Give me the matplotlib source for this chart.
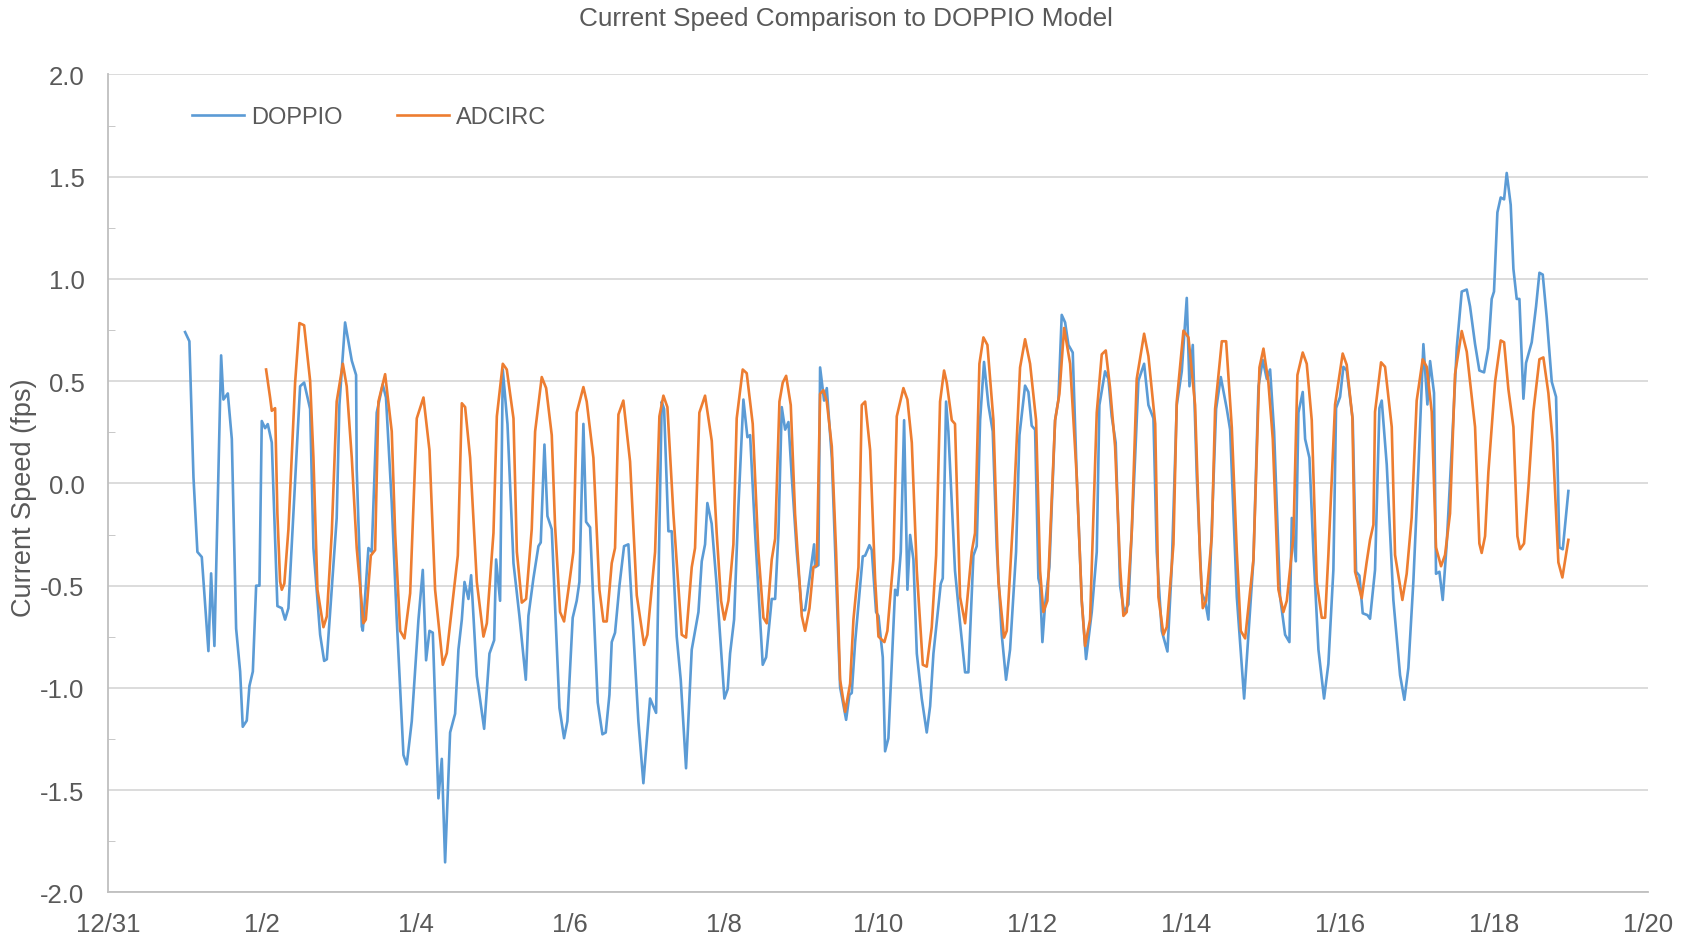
import numpy as np
import matplotlib
matplotlib.use('Agg')
import matplotlib.pyplot as plt
from matplotlib.ticker import MultipleLocator, FormatStrFormatter

plt.rcParams['font.family'] = ['Liberation Sans', 'DejaVu Sans']

# days after 12/31 00:00, current speed in fps
doppio = [
    (1.001, 0.74), (1.057, 0.695), (1.11, 0.03), (1.161, -0.335), (1.218, -0.36),
    (1.304, -0.82), (1.339, -0.44), (1.382, -0.795), (1.469, 0.626), (1.499, 0.41),
    (1.556, 0.44), (1.608, 0.217), (1.664, -0.71), (1.716, -0.92), (1.75, -1.19),
    (1.802, -1.16), (1.837, -0.99), (1.881, -0.92), (1.924, -0.50), (1.967, -0.50),
    (1.997, 0.305), (2.04, 0.27), (2.075, 0.29), (2.127, 0.20), (2.2, -0.60),
    (2.257, -0.61), (2.3, -0.666), (2.343, -0.61), (2.495, 0.475), (2.547, 0.493),
    (2.625, 0.364), (2.668, -0.316), (2.755, -0.74), (2.807, -0.868), (2.842, -0.86),
    (2.97, -0.17), (3.005, 0.383), (3.079, 0.787), (3.166, 0.60), (3.222, 0.53),
    (3.23, 0.07), (3.296, -0.70), (3.309, -0.72), (3.382, -0.316), (3.425, -0.335),
    (3.49, 0.346), (3.568, 0.484), (3.61, 0.42), (3.685, -0.096), (3.75, -0.666),
    (3.837, -1.328), (3.88, -1.374), (3.945, -1.163), (4.032, -0.666), (4.088, -0.423),
    (4.131, -0.865), (4.175, -0.721), (4.218, -0.73), (4.291, -1.54), (4.335, -1.347),
    (4.378, -1.853), (4.443, -1.218), (4.508, -1.126), (4.551, -0.813), (4.595, -0.666),
    (4.63, -0.482), (4.681, -0.565), (4.716, -0.449), (4.79, -0.942), (4.885, -1.2),
    (4.954, -0.832), (5.015, -0.767), (5.04, -0.372), (5.092, -0.574), (5.127, 0.557),
    (5.188, 0.29), (5.266, -0.39), (5.343, -0.648), (5.426, -0.96), (5.46, -0.648),
    (5.525, -0.464), (5.59, -0.307), (5.62, -0.289), (5.668, 0.19), (5.707, -0.16),
    (5.763, -0.224), (5.863, -1.098), (5.923, -1.246), (5.966, -1.163), (6.035, -0.657),
    (6.087, -0.574), (6.122, -0.482), (6.174, 0.291), (6.209, -0.188), (6.261, -0.215),
    (6.36, -1.071), (6.421, -1.227), (6.464, -1.218), (6.512, -1.034), (6.542, -0.776),
    (6.585, -0.73), (6.642, -0.5), (6.702, -0.307), (6.758, -0.298), (6.888, -1.163),
    (6.953, -1.466), (7.04, -1.052), (7.118, -1.122), (7.191, 0.40), (7.222, 0.364),
    (7.278, -0.234), (7.321, -0.234), (7.386, -0.749), (7.438, -0.96), (7.507, -1.393),
    (7.581, -0.813), (7.624, -0.721), (7.668, -0.629), (7.711, -0.381), (7.754, -0.298),
    (7.784, -0.096), (7.84, -0.197), (7.905, -0.5), (8.005, -1.052), (8.048, -1.006),
    (8.079, -0.832), (8.131, -0.666), (8.187, -0.114), (8.252, 0.41), (8.304, 0.226),
    (8.339, 0.236), (8.404, -0.243), (8.503, -0.887), (8.547, -0.85), (8.62, -0.565),
    (8.664, -0.565), (8.707, -0.243), (8.75, 0.373), (8.794, 0.263), (8.837, 0.30),
    (8.88, 0.033), (8.945, -0.335), (9.01, -0.62), (9.053, -0.62), (9.118, -0.445),
    (9.17, -0.298), (9.183, -0.41), (9.226, -0.40), (9.248, 0.567), (9.3, 0.405),
    (9.335, 0.466), (9.4, 0.125), (9.508, -0.997), (9.586, -1.156), (9.629, -1.034),
    (9.659, -1.025), (9.703, -0.776), (9.802, -0.357), (9.833, -0.353), (9.889, -0.302),
    (9.919, -0.326), (9.975, -0.629), (10.006, -0.648), (10.062, -0.85), (10.092, -1.31),
    (10.135, -1.246), (10.222, -0.52), (10.252, -0.547), (10.296, -0.335), (10.339, 0.309),
    (10.382, -0.52), (10.417, -0.252), (10.46, -0.372), (10.504, -0.832), (10.568, -1.052),
    (10.633, -1.218), (10.677, -1.089), (10.72, -0.832), (10.772, -0.648), (10.815, -0.491),
    (10.841, -0.464), (10.884, 0.40), (10.914, 0.254), (11.0, -0.427), (11.066, -0.684),
    (11.131, -0.924), (11.174, -0.924), (11.239, -0.353), (11.282, -0.307), (11.326, 0.309),
    (11.377, 0.594), (11.434, 0.383), (11.49, 0.254), (11.542, -0.316), (11.607, -0.74),
    (11.663, -0.96), (11.715, -0.813), (11.793, -0.335), (11.837, 0.236), (11.91, 0.478),
    (11.953, 0.447), (11.996, 0.282), (12.04, 0.263), (12.083, -0.464), (12.105, -0.50),
    (12.135, -0.776), (12.17, -0.592), (12.226, -0.409), (12.3, 0.309), (12.343, 0.41),
    (12.386, 0.824), (12.43, 0.787), (12.473, 0.677), (12.529, 0.64), (12.581, 0.033),
    (12.646, -0.574), (12.702, -0.859), (12.776, -0.629), (12.841, -0.335), (12.875, 0.383),
    (12.949, 0.548), (12.992, 0.511), (13.035, 0.328), (13.087, 0.199), (13.144, -0.50),
    (13.196, -0.629), (13.252, -0.592), (13.339, 0.125), (13.382, 0.502), (13.456, 0.585),
    (13.512, 0.383), (13.577, 0.318), (13.62, -0.335), (13.685, -0.721), (13.759, -0.822),
    (13.815, -0.409), (13.88, 0.383), (13.945, 0.548), (14.01, 0.907), (14.045, 0.475),
    (14.088, 0.677), (14.14, 0.033), (14.205, -0.537), (14.248, -0.574), (14.291, -0.666),
    (14.348, -0.077), (14.391, 0.364), (14.452, 0.52), (14.53, 0.364), (14.573, 0.263),
    (14.66, -0.556), (14.755, -1.052), (14.833, -0.61), (14.876, -0.372), (14.941, 0.475),
    (14.997, 0.603), (15.049, 0.511), (15.092, 0.557), (15.144, 0.254), (15.222, -0.556),
    (15.287, -0.74), (15.343, -0.776), (15.374, -0.169), (15.426, -0.381), (15.46, 0.346),
    (15.516, 0.447), (15.547, 0.217), (15.603, 0.125), (15.655, -0.335), (15.72, -0.813),
    (15.793, -1.052), (15.849, -0.883), (15.914, -0.423), (15.949, 0.368), (16.001, 0.423),
    (16.044, 0.57), (16.087, 0.552), (16.165, 0.313), (16.209, -0.432), (16.252, -0.451),
    (16.295, -0.635), (16.356, -0.644), (16.39, -0.662), (16.455, -0.423), (16.512, 0.368),
    (16.542, 0.405), (16.607, 0.092), (16.693, -0.57), (16.78, -0.938), (16.836, -1.058),
    (16.888, -0.902), (16.953, -0.478), (17.018, 0.074), (17.083, 0.681), (17.135, 0.386),
    (17.17, 0.598), (17.221, 0.442), (17.247, -0.442), (17.291, -0.432), (17.334, -0.57),
    (17.386, -0.294), (17.451, 0.166), (17.516, 0.662), (17.581, 0.938), (17.646, 0.948),
    (17.689, 0.865), (17.754, 0.681), (17.81, 0.552), (17.871, 0.543), (17.927, 0.662),
    (17.97, 0.902), (18.0, 0.938), (18.044, 1.325), (18.087, 1.398), (18.131, 1.389),
    (18.165, 1.518), (18.217, 1.362), (18.252, 1.049), (18.295, 0.902), (18.33, 0.902),
    (18.382, 0.414), (18.416, 0.589), (18.49, 0.69), (18.546, 0.865), (18.59, 1.03),
    (18.633, 1.021), (18.685, 0.81), (18.75, 0.497), (18.806, 0.423), (18.849, -0.313),
    (18.893, -0.322), (18.966, -0.037),
]

adcirc = [
    (2.053, 0.557), (2.105, 0.42), (2.127, 0.355), (2.17, 0.368), (2.2, -0.15),
    (2.235, -0.48), (2.257, -0.52), (2.29, -0.49), (2.343, -0.225), (2.43, 0.493),
    (2.486, 0.784), (2.547, 0.773), (2.625, 0.502), (2.668, 0.125), (2.72, -0.52),
    (2.798, -0.703), (2.842, -0.65), (2.906, -0.243), (2.97, 0.40), (3.05, 0.585),
    (3.10, 0.475), (3.166, 0.125), (3.23, -0.316), (3.317, -0.684), (3.348, -0.666),
    (3.413, -0.353), (3.469, -0.326), (3.512, 0.40), (3.599, 0.534), (3.685, 0.254),
    (3.729, -0.243), (3.794, -0.721), (3.85, -0.758), (3.924, -0.537), (4.01, 0.318),
    (4.097, 0.42), (4.175, 0.162), (4.248, -0.52), (4.348, -0.887), (4.4, -0.83),
    (4.543, -0.353), (4.595, 0.392), (4.638, 0.373), (4.703, 0.125), (4.79, -0.482),
    (4.876, -0.749), (4.92, -0.684), (5.006, -0.243), (5.05, 0.328), (5.127, 0.585),
    (5.179, 0.557), (5.266, 0.318), (5.31, -0.335), (5.374, -0.583), (5.43, -0.565),
    (5.503, -0.224), (5.547, 0.254), (5.633, 0.52), (5.69, 0.466), (5.763, 0.236),
    (5.806, -0.206), (5.871, -0.629), (5.923, -0.675), (5.979, -0.52), (6.044, -0.335),
    (6.087, 0.346), (6.174, 0.471), (6.217, 0.40), (6.304, 0.125), (6.382, -0.52),
    (6.434, -0.675), (6.477, -0.675), (6.542, -0.39), (6.585, -0.316), (6.629, 0.337),
    (6.693, 0.405), (6.78, 0.107), (6.867, -0.547), (6.962, -0.79), (7.005, -0.74),
    (7.105, -0.335), (7.161, 0.328), (7.213, 0.429), (7.265, 0.373), (7.343, -0.15),
    (7.451, -0.74), (7.507, -0.754), (7.581, -0.41), (7.624, -0.316), (7.68, 0.346),
    (7.754, 0.429), (7.841, 0.208), (7.905, -0.243), (7.962, -0.574), (8.005, -0.666),
    (8.057, -0.574), (8.122, -0.298), (8.165, 0.318), (8.243, 0.557), (8.295, 0.539),
    (8.373, 0.291), (8.447, -0.335), (8.512, -0.657), (8.555, -0.684), (8.62, -0.372),
    (8.664, -0.27), (8.72, 0.40), (8.763, 0.493), (8.807, 0.526), (8.867, 0.383),
    (8.923, -0.15), (9.01, -0.648), (9.053, -0.721), (9.11, -0.61), (9.161, -0.41),
    (9.205, -0.40), (9.248, 0.438), (9.291, 0.456), (9.335, 0.40), (9.4, 0.18),
    (9.456, -0.335), (9.508, -0.96), (9.573, -1.117), (9.638, -0.979), (9.681, -0.666),
    (9.746, -0.41), (9.789, 0.383), (9.833, 0.40), (9.898, 0.162), (9.962, -0.464),
    (10.006, -0.749), (10.083, -0.776), (10.122, -0.721), (10.2, -0.372), (10.244, 0.328),
    (10.33, 0.466), (10.382, 0.41), (10.439, 0.199), (10.504, -0.427), (10.582, -0.887),
    (10.633, -0.896), (10.698, -0.703), (10.755, -0.353), (10.806, 0.40), (10.858, 0.552),
    (10.893, 0.493), (10.958, 0.309), (11.0, 0.291), (11.066, -0.556), (11.131, -0.684),
    (11.217, -0.335), (11.26, -0.243), (11.317, 0.585), (11.369, 0.714), (11.421, 0.677),
    (11.499, 0.309), (11.564, -0.482), (11.637, -0.754), (11.672, -0.721), (11.758, -0.15),
    (11.845, 0.567), (11.91, 0.705), (11.975, 0.585), (12.053, 0.309), (12.105, -0.427),
    (12.148, -0.629), (12.2, -0.574), (12.3, 0.309), (12.356, 0.438), (12.417, 0.76),
    (12.495, 0.585), (12.581, 0.033), (12.646, -0.574), (12.689, -0.795), (12.754, -0.666),
    (12.841, 0.346), (12.906, 0.631), (12.958, 0.65), (13.014, 0.466), (13.079, 0.18),
    (13.144, -0.409), (13.187, -0.648), (13.23, -0.629), (13.295, -0.243), (13.36, 0.511),
    (13.456, 0.732), (13.512, 0.622), (13.6, 0.291), (13.642, -0.556), (13.707, -0.74),
    (13.75, -0.703), (13.837, -0.298), (13.88, 0.40), (13.967, 0.747), (14.032, 0.714),
    (14.118, 0.383), (14.183, -0.372), (14.218, -0.61), (14.261, -0.574), (14.335, -0.261),
    (14.378, 0.364), (14.465, 0.695), (14.521, 0.695), (14.595, 0.272), (14.66, -0.335),
    (14.711, -0.721), (14.768, -0.758), (14.876, -0.372), (14.954, 0.567), (15.006, 0.659),
    (15.07, 0.493), (15.127, 0.217), (15.2, -0.519), (15.265, -0.629), (15.309, -0.574),
    (15.395, -0.261), (15.447, 0.53), (15.516, 0.64), (15.568, 0.585), (15.633, 0.309),
    (15.698, -0.482), (15.763, -0.657), (15.807, -0.657), (15.849, -0.35), (15.936, 0.386),
    (16.035, 0.635), (16.087, 0.58), (16.161, 0.322), (16.196, -0.432), (16.282, -0.561),
    (16.346, -0.386), (16.39, -0.276), (16.434, -0.202), (16.455, 0.35), (16.533, 0.592),
    (16.585, 0.57), (16.672, 0.276), (16.715, -0.35), (16.81, -0.57), (16.866, -0.442),
    (16.931, -0.166), (16.996, 0.405), (17.074, 0.607), (17.126, 0.57), (17.191, 0.35),
    (17.247, -0.313), (17.312, -0.405), (17.364, -0.35), (17.429, -0.147), (17.494, 0.534),
    (17.581, 0.745), (17.646, 0.644), (17.754, 0.276), (17.81, -0.294), (17.84, -0.34),
    (17.884, -0.258), (17.927, 0.055), (18.014, 0.497), (18.087, 0.699), (18.131, 0.69),
    (18.187, 0.46), (18.252, 0.276), (18.304, -0.258), (18.338, -0.322), (18.39, -0.294),
    (18.447, -0.018), (18.511, 0.35), (18.59, 0.607), (18.641, 0.616), (18.706, 0.442),
    (18.763, 0.202), (18.814, -0.202), (18.836, -0.386), (18.888, -0.46), (18.966, -0.276),
]

tick_days = [0, 2, 4, 6, 8, 10, 12, 14, 16, 18, 20]
tick_labels = ['12/31', '1/2', '1/4', '1/6', '1/8', '1/10', '1/12', '1/14', '1/16', '1/18', '1/20']

doppio = np.array(doppio)
adcirc = np.array(adcirc)
txt = '#595959'

fig = plt.figure(figsize=(16.92, 9.45), dpi=100)
ax = fig.add_axes([108 / 1692, 1 - 893.4 / 945, 1540 / 1692, 818 / 945])

ax.plot(doppio[:, 0], doppio[:, 1], color='#5B9BD5', lw=1.9, label='DOPPIO')
ax.plot(adcirc[:, 0], adcirc[:, 1], color='#ED7D31', lw=1.9, label='ADCIRC')

ax.set_xlim(0, 20)
ax.set_ylim(-2, 2)
ax.set_xticks(tick_days)
ax.set_xticklabels(tick_labels)
ax.yaxis.set_major_locator(MultipleLocator(0.5))
ax.yaxis.set_minor_locator(MultipleLocator(0.25))
ax.yaxis.set_major_formatter(FormatStrFormatter('%.1f'))

ax.grid(axis='y', which='major', color='#D9D9D9', lw=1.3)
ax.set_axisbelow(True)
for s in ['top', 'right']:
    ax.spines[s].set_visible(False)
for s in ['left', 'bottom']:
    ax.spines[s].set_color('#BFBFBF')
    ax.spines[s].set_linewidth(1.3)

ax.tick_params(axis='y', which='major', length=0, pad=17, labelsize=18.5, labelcolor=txt)
ax.tick_params(axis='y', which='minor', length=5, direction='in', color='#BFBFBF')
ax.tick_params(axis='x', length=0, pad=14, labelsize=18.5, labelcolor=txt)

fig.text(0.5, 1 - 19 / 945, 'Current Speed Comparison to DOPPIO Model',
         ha='center', va='center', fontsize=18.8, color=txt)
fig.text(24 / 1692, 1 - 498 / 945, 'Current Speed (fps)', rotation=90,
         ha='center', va='center', fontsize=19.5, color=txt)

ax.legend(loc='center left', bbox_to_anchor=(192 / 1692, 1 - 118.5 / 945),
          bbox_transform=fig.transFigure, ncol=2, frameon=False,
          handlelength=2.2, handletextpad=0.3, columnspacing=2.3,
          borderpad=0, borderaxespad=0, fontsize=17, labelcolor=txt)

fig.savefig('out.png', dpi=100)
